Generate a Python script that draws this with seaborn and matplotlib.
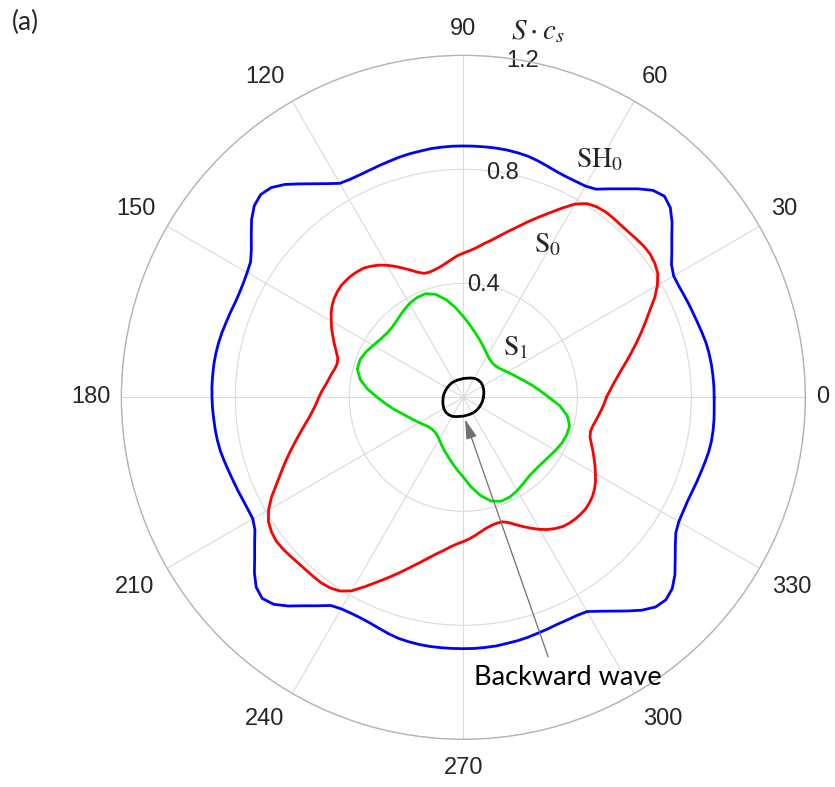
import numpy as np
import pandas as pd
import matplotlib
matplotlib.use('Agg')
import matplotlib.pyplot as plt
import seaborn as sns

# slowness curves S*c_s (polar angle in degrees)
angle_fine = np.arange(0, 360, 2.5)    # SH0, S0
angle_mid = np.arange(0, 360, 5)       # S1
angle_coarse = np.arange(0, 360, 10)   # backward wave

sh0 = [0.880, 0.880, 0.879, 0.878, 0.876, 0.873, 0.868, 0.863, 0.859, 0.856, 0.853, 0.851,
       0.852, 0.866, 0.893, 0.922, 0.956, 0.985, 0.998, 0.985, 0.955, 0.922, 0.893, 0.866,
       0.856, 0.854, 0.854, 0.857, 0.863, 0.870, 0.876, 0.879, 0.881, 0.882, 0.882, 0.882,
       0.882, 0.882, 0.881, 0.880, 0.877, 0.875, 0.872, 0.868, 0.865, 0.862, 0.861, 0.862,
       0.867, 0.889, 0.915, 0.944, 0.975, 0.998, 1.006, 0.995, 0.970, 0.938, 0.908, 0.885,
       0.876, 0.870, 0.867, 0.867, 0.870, 0.873, 0.877, 0.880, 0.882, 0.883, 0.883, 0.883,
       0.882, 0.881, 0.879, 0.878, 0.876, 0.873, 0.868, 0.863, 0.859, 0.856, 0.853, 0.852,
       0.853, 0.867, 0.894, 0.923, 0.957, 0.986, 0.998, 0.985, 0.956, 0.922, 0.893, 0.866,
       0.857, 0.854, 0.854, 0.857, 0.863, 0.870, 0.876, 0.879, 0.881, 0.882, 0.882, 0.882,
       0.882, 0.882, 0.881, 0.880, 0.877, 0.875, 0.872, 0.868, 0.865, 0.862, 0.862, 0.863,
       0.868, 0.890, 0.916, 0.945, 0.975, 0.998, 1.005, 0.994, 0.969, 0.937, 0.908, 0.884,
       0.873, 0.869, 0.867, 0.868, 0.871, 0.874, 0.878, 0.882, 0.884, 0.884, 0.883, 0.881]

s0 = [0.502, 0.514, 0.528, 0.545, 0.564, 0.587, 0.611, 0.637, 0.664, 0.692, 0.722, 0.757,
      0.786, 0.809, 0.820, 0.826, 0.826, 0.823, 0.820, 0.819, 0.820, 0.820, 0.816, 0.806,
      0.783, 0.748, 0.714, 0.683, 0.654, 0.626, 0.602, 0.579, 0.559, 0.543, 0.527, 0.515,
      0.506, 0.497, 0.485, 0.474, 0.465, 0.459, 0.455, 0.456, 0.467, 0.483, 0.500, 0.518,
      0.535, 0.550, 0.562, 0.572, 0.577, 0.580, 0.581, 0.581, 0.577, 0.571, 0.562, 0.550,
      0.535, 0.521, 0.505, 0.490, 0.475, 0.462, 0.458, 0.462, 0.470, 0.477, 0.486, 0.497,
      0.507, 0.517, 0.530, 0.546, 0.566, 0.588, 0.612, 0.638, 0.665, 0.693, 0.724, 0.759,
      0.789, 0.811, 0.822, 0.828, 0.827, 0.824, 0.821, 0.820, 0.820, 0.820, 0.816, 0.806,
      0.784, 0.749, 0.715, 0.684, 0.655, 0.627, 0.602, 0.579, 0.559, 0.543, 0.527, 0.515,
      0.506, 0.497, 0.486, 0.475, 0.466, 0.460, 0.457, 0.458, 0.468, 0.484, 0.501, 0.518,
      0.535, 0.550, 0.562, 0.572, 0.577, 0.580, 0.581, 0.581, 0.577, 0.571, 0.562, 0.550,
      0.535, 0.521, 0.506, 0.492, 0.478, 0.466, 0.462, 0.465, 0.472, 0.479, 0.487, 0.495]

s1 = [0.300, 0.270, 0.245, 0.222, 0.204, 0.190, 0.178, 0.168, 0.161, 0.158, 0.158, 0.162,
      0.170, 0.182, 0.196, 0.213, 0.232, 0.256, 0.283, 0.316, 0.348, 0.374, 0.387, 0.386,
      0.379, 0.369, 0.358, 0.351, 0.350, 0.355, 0.365, 0.377, 0.386, 0.385, 0.368, 0.338,
      0.302, 0.272, 0.246, 0.222, 0.204, 0.190, 0.178, 0.168, 0.160, 0.157, 0.157, 0.161,
      0.170, 0.183, 0.197, 0.213, 0.232, 0.255, 0.280, 0.316, 0.350, 0.377, 0.388, 0.386,
      0.378, 0.368, 0.360, 0.358, 0.360, 0.365, 0.373, 0.381, 0.386, 0.386, 0.370, 0.340]

back = [0.070, 0.073, 0.076, 0.079, 0.081, 0.080, 0.077, 0.072, 0.068,
        0.066, 0.064, 0.064, 0.064, 0.065, 0.065, 0.066, 0.067, 0.069,
        0.071, 0.073, 0.076, 0.079, 0.081, 0.080, 0.077, 0.072, 0.068,
        0.066, 0.064, 0.064, 0.064, 0.065, 0.065, 0.066, 0.067, 0.069]

modes = ['SH0', 'S0', 'S1', 'back']
colors = {'SH0': '#0000ff', 'S0': '#ff0000', 'S1': '#00e000', 'back': '#000000'}

r_ticks = [0.4, 0.8, 1.2]
theta_ticks = list(range(0, 360, 30))


def build_frame():
    """long table, each curve closed back on its first point"""
    rows = []
    for name, ang, vals in zip(modes, [angle_fine, angle_fine, angle_mid, angle_coarse],
                               [sh0, s0, s1, back]):
        th = np.deg2rad(np.append(ang, 360))
        rr = np.append(vals, vals[0])
        rows.append(pd.DataFrame({'theta': th, 'r': rr, 'mode': name}))
    return pd.concat(rows, ignore_index=True)


def main():
    sns.set_theme(style='white')
    plt.rcParams['font.family'] = ['Liberation Sans', 'DejaVu Sans']
    plt.rcParams['mathtext.fontset'] = 'stix'

    df = build_frame()

    fig = plt.figure(figsize=(8.35, 7.87), dpi=100)
    ax = fig.add_axes([0.1453, 0.0606, 0.8192, 0.8691], projection='polar')

    sns.lineplot(data=df, x='theta', y='r', hue='mode', palette=colors,
                 sort=False, estimator=None, lw=2.0, legend=False, ax=ax)
    ax.set_xlabel('')
    ax.set_ylabel('')

    ax.set_ylim(0, 1.2)
    ax.set_yticks(r_ticks)
    ax.set_yticklabels([f'{v:.1f}' for v in r_ticks], fontsize=17, color='#262626')
    ax.set_rlabel_position(80)
    for lbl in ax.get_yticklabels():
        lbl.set_ha('center')
        lbl.set_va('center')

    ax.set_xticks(np.deg2rad(theta_ticks))
    ax.set_xticklabels([])
    ax.grid(True, color='#dadada', lw=0.8)
    ax.spines['polar'].set_color('#b4b4b4')
    ax.spines['polar'].set_linewidth(1.0)

    # angle labels just outside the rim
    for t in theta_ticks:
        c, s = np.cos(np.deg2rad(t)), np.sin(np.deg2rad(t))
        ha = 'left' if c > 0.1 else ('right' if c < -0.1 else 'center')
        va = 'bottom' if s > 0.1 else ('top' if s < -0.1 else 'center')
        gap = 8 + 5 * abs(s) if s < 0 else 8 + 3 * abs(s)
        ax.annotate(str(t), xy=(np.deg2rad(t), 1.2), xytext=(gap * c, gap * s),
                    textcoords='offset points', ha=ha, va=va, fontsize=17,
                    color='#262626', annotation_clip=False)

    ax.text(np.deg2rad(78.5), 1.311, r'$S\cdot c_s$', fontsize=21,
            ha='center', va='center')

    # mode names
    ax.text(np.deg2rad(60.1), 0.961, r'$\mathrm{SH}_0$', fontsize=20, ha='center', va='center')
    ax.text(np.deg2rad(60.9), 0.611, r'$\mathrm{S}_0$', fontsize=20, ha='center', va='center')
    ax.text(np.deg2rad(43.1), 0.253, r'$\mathrm{S}_1$', fontsize=20, ha='center', va='center')

    ax.annotate('', xy=(np.deg2rad(274.4), 0.0775), xytext=(np.deg2rad(288.1), 0.958),
                arrowprops=dict(arrowstyle='-|>,head_length=0.8,head_width=0.22',
                                color='#707070', lw=0.9, shrinkA=0, shrinkB=0,
                                mutation_scale=15))
    ax.text(np.deg2rad(290.0), 1.074, 'Backward wave', fontsize=19.5,
            family=['Lato', 'DejaVu Sans'], ha='center', va='baseline', color='black')

    fig.text(12 / 835, 1 - 22 / 787, '(a)', fontsize=19, family=['Lato', 'DejaVu Sans'],
             ha='left', va='center')

    fig.savefig('out.png', dpi=100)
    plt.close(fig)


if __name__ == '__main__':
    main()
